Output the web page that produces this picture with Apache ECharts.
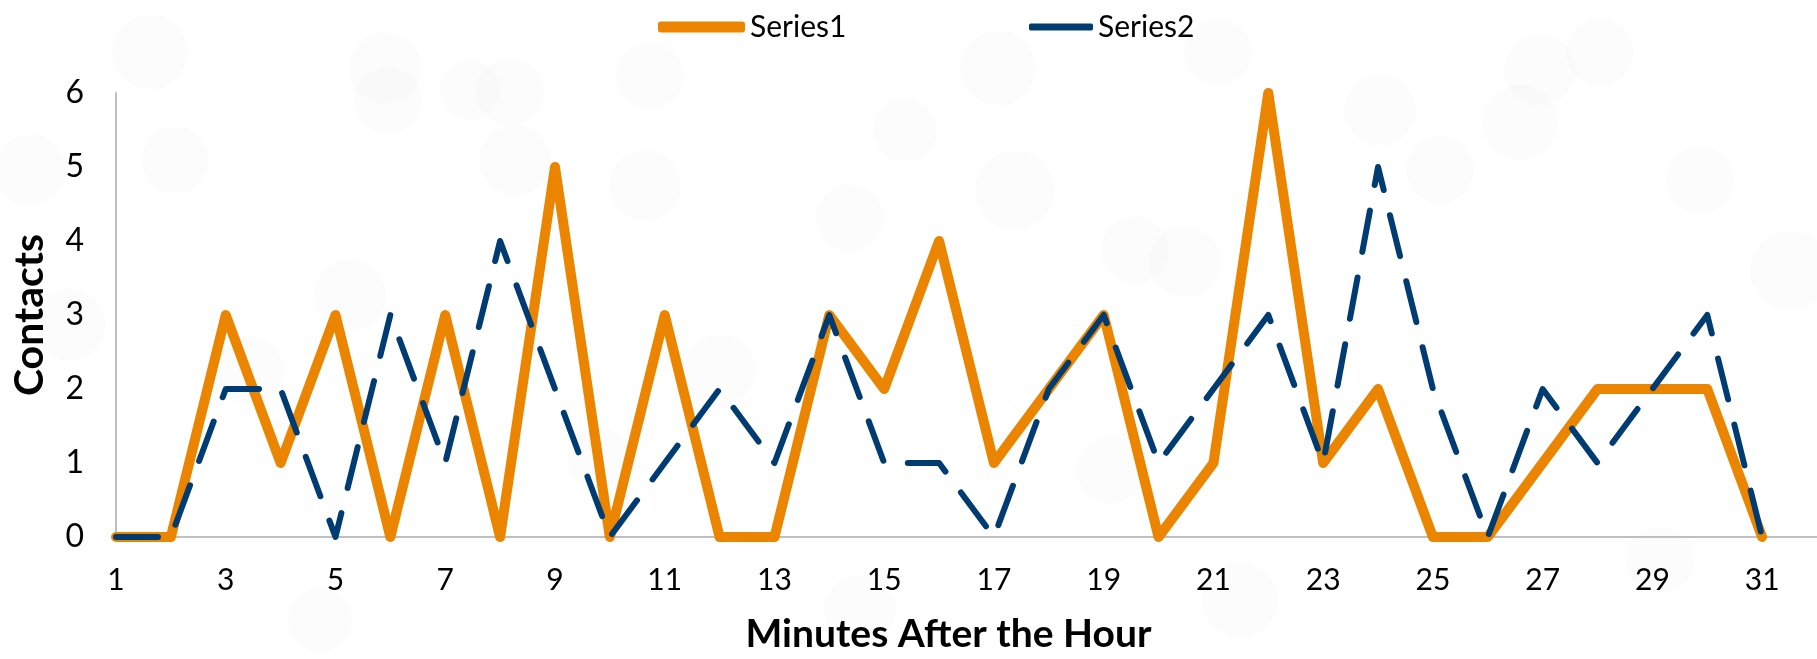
<!DOCTYPE html>
<html>
<head>
<meta charset="utf-8">
<title>Contacts by Minute</title>
<script src="https://cdn.jsdelivr.net/npm/echarts@6/dist/echarts.min.js"></script>
<style>
  html, body { margin: 0; padding: 0; background: #ffffff; }
  #chart { width: 1817px; height: 659px; }
</style>
</head>
<body>
<div id="chart"></div>
<script>
// Minutes after the hour (the last slot only pads the axis to the right edge)
const minutes = ['1','2','3','4','5','6','7','8','9','10','11','12','13','14','15','16',
                 '17','18','19','20','21','22','23','24','25','26','27','28','29','30','31','32'];

// Contacts per minute
const series1 = [0,0,3,1,3,0,3,0,5,0,3,0,0,3,2,4,1,2,3,0,1,6,1,2,0,0,1,2,2,2,0];
const series2 = [0,0,2,2,0,3,1,4,2,0,1,2,1,3,1,1,0,2,3,1,2,3,1,5,2,0,2,1,2,3,0];

const yTicks = [0, 1, 2, 3, 4, 5, 6];

const ORANGE = '#EB8500';
const NAVY = '#003C71';
const FONT = 'Lato, "Open Sans", sans-serif';

// Soft light-grey bokeh spots behind the plot
const spots = [
  [150, 52, 38], [175, 160, 34], [385, 68, 36], [388, 100, 34], [510, 92, 34],
  [515, 160, 36], [650, 76, 34], [645, 185, 36], [850, 218, 34], [998, 68, 38],
  [1015, 190, 40], [1218, 52, 34], [1185, 262, 36], [1380, 110, 36], [1440, 170, 34],
  [1540, 70, 36], [1600, 52, 34], [1520, 122, 38], [1790, 270, 40], [1135, 250, 34],
  [70, 325, 36], [350, 295, 36], [250, 370, 34], [720, 370, 36], [30, 170, 36],
  [470, 90, 30], [905, 130, 32], [1700, 180, 34], [860, 610, 36], [1240, 600, 38],
  [1110, 470, 34], [600, 460, 32], [1660, 560, 34], [320, 620, 32]
];

const chart = echarts.init(document.getElementById('chart'), null, { renderer: 'canvas' });

chart.setOption({
  backgroundColor: '#ffffff',
  animation: false,
  textStyle: { fontFamily: FONT },
  graphic: spots.map(function (s) {
    return {
      type: 'circle',
      silent: true,
      z: -10,
      shape: { cx: s[0], cy: s[1], r: s[2] },
      style: {
        fill: 'rgba(0,0,0,0.012)',
        shadowBlur: 24,
        shadowColor: 'rgba(0,0,0,0.012)'
      }
    };
  }),
  legend: [
    {
      data: [{ name: 'Series1', icon: 'roundRect' }],
      left: 653,
      top: 7,
      itemWidth: 87,
      itemHeight: 11,
      itemGap: 0,
      textStyle: { fontFamily: FONT, fontSize: 30, color: '#000', padding: [0, 0, 0, 0] }
    },
    {
      data: [{ name: 'Series2', icon: 'roundRect' }],
      left: 1024,
      top: 7,
      itemWidth: 64,
      itemHeight: 7,
      itemGap: 0,
      textStyle: { fontFamily: FONT, fontSize: 30, color: '#000', padding: [0, 0, 0, 0] }
    }
  ],
  grid: {
    left: 116,
    right: 0,
    top: 93,
    bottom: 119,
    containLabel: false
  },
  xAxis: {
    type: 'category',
    data: minutes,
    boundaryGap: false,
    name: 'Minutes After the Hour',
    nameLocation: 'middle',
    nameGap: 78,
    nameTextStyle: {
      fontFamily: FONT, fontSize: 39, fontWeight: 'bold', color: '#000',
      padding: [0, 36, 0, 0]
    },
    axisLine: { lineStyle: { color: '#BFBFBF', width: 2 } },
    axisTick: { show: false },
    axisLabel: {
      interval: 1,
      margin: 28,
      fontFamily: FONT,
      fontSize: 30,
      color: '#000'
    },
    splitLine: { show: false }
  },
  yAxis: {
    type: 'value',
    min: yTicks[0],
    max: yTicks[yTicks.length - 1],
    interval: 1,
    name: 'Contacts',
    nameLocation: 'middle',
    nameGap: 66,
    nameTextStyle: { fontFamily: FONT, fontSize: 41, fontWeight: 'bold', color: '#000' },
    axisLine: { show: true, lineStyle: { color: '#BFBFBF', width: 2 } },
    axisTick: { show: false },
    axisLabel: {
      margin: 32,
      fontFamily: FONT,
      fontSize: 32,
      color: '#000'
    },
    splitLine: { show: false }
  },
  series: [
    {
      name: 'Series1',
      type: 'line',
      data: series1,
      color: ORANGE,
      showSymbol: false,
      symbol: 'none',
      clip: false,
      lineStyle: { color: ORANGE, width: 10, cap: 'round', join: 'round' },
      z: 2
    },
    {
      name: 'Series2',
      type: 'line',
      data: series2,
      color: NAVY,
      showSymbol: false,
      symbol: 'none',
      clip: false,
      lineStyle: { color: NAVY, width: 6, type: [42, 26], cap: 'round', join: 'round' },
      z: 3
    }
  ]
});
</script>
</body>
</html>
